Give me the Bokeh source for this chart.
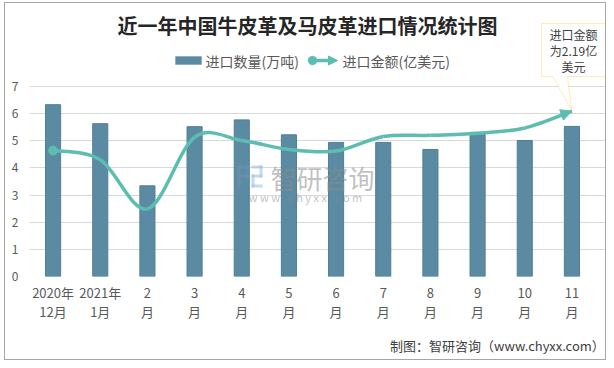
from bokeh.plotting import figure
from bokeh.models import (Range1d, FixedTicker, Label, BoxAnnotation, PolyAnnotation,
                          Arrow, NormalHead, LinearAxis)
from bokeh.embed import file_html
from bokeh.resources import INLINE

# ---------------- data ----------------
months = ["2020年\n12月", "2021年\n1月", "2\n月", "3\n月", "4\n月", "5\n月",
          "6\n月", "7\n月", "8\n月", "9\n月", "10\n月", "11\n月"]
qty = [6.33, 5.63, 3.34, 5.52, 5.77, 5.22, 4.94, 4.94, 4.68, 5.31, 5.01, 5.53]      # 进口数量(万吨)
amount = [4.64, 4.30, 2.49, 5.13, 5.01, 4.68, 4.62, 5.16, 5.20, 5.28, 5.47, 6.09]  # 进口金额(亿美元)
y_ticks = [0, 1, 2, 3, 4, 5, 6, 7]

title_text = "近一年中国牛皮革及马皮革进口情况统计图"
legend_bar = "进口数量(万吨)"
legend_line = "进口金额(亿美元)"
callout_lines = ["进口金额", "为2.19亿", "美元"]
source_text = "制图：智研咨询（www.chyxx.com）"

FONT = "Noto Sans CJK SC"
BAR = "#5B8BA3"
BAR_EDGE = "#4E7E95"
TEAL = "#5CBDB0"
GRID = "#D9D9D9"
TXT = "#595959"

# ---------------- layout (page pixels) ----------------
OX, OY = 5, 3                 # canvas origin on page (inside the css border)
CW, CH = 602, 358             # canvas size
PL, PR, PT, PB = 29, 595, 86, 276   # plot area of the categories / 0..7
FR_TOP, FR_RIGHT = OY, OX + CW      # frame extends to the canvas top / right
ymax = 7
y_end = ymax * (PB - FR_TOP) / (PB - PT)
ncat = len(months)
x_end = -0.5 + ncat * (FR_RIGHT - PL) / (PR - PL)

def data_x(X):   # page x -> data x
    return -0.5 + ncat * (X - PL) / (PR - PL)

x = list(range(ncat))

p = figure(width=CW, height=CH, output_backend="svg", toolbar_location=None,
           x_range=Range1d(-0.5, x_end), y_range=Range1d(0, y_end),
           min_border_left=PL - OX, min_border_right=0, min_border_top=0,
           min_border_bottom=OY + CH - PB,
           styles={"border": "1px solid #A6A6A6", "margin-left": "4px", "margin-top": "2px"})
p.outline_line_color = None
p.background_fill_color = "white"
p.border_fill_color = "white"

# axes
p.xaxis.ticker = FixedTicker(ticks=x)
p.xaxis.major_label_overrides = {i: m for i, m in enumerate(months)}
p.yaxis.ticker = FixedTicker(ticks=y_ticks)
for ax in (p.xaxis, p.yaxis):
    ax.axis_line_color = None
    ax.major_tick_line_color = None
    ax.minor_tick_line_color = None
    ax.major_tick_out = 0
    ax.major_tick_in = 0
    ax.minor_tick_out = 0
    ax.major_label_text_font = FONT
    ax.major_label_text_color = TXT
p.xaxis.major_label_text_font_size = "13px"
p.xaxis.major_label_text_line_height = 1.0
p.yaxis.major_label_text_font_size = "12px"
p.xaxis.major_label_standoff = 6
p.yaxis.major_label_standoff = 11
p.xgrid.grid_line_color = None
p.ygrid.grid_line_color = GRID
p.ygrid.grid_line_width = 1

# source line as a second, tick-less axis below the month axis
src_pos = round(data_x(497), 3)
src_axis = LinearAxis(ticker=FixedTicker(ticks=[src_pos]),
                      major_label_overrides={src_pos: source_text},
                      axis_line_color=None, major_tick_line_color=None, minor_tick_line_color=None,
                      major_tick_out=0, major_tick_in=0, minor_tick_out=0,
                      major_label_standoff=12, major_label_text_font=FONT,
                      major_label_text_font_size="13px", major_label_text_color="#404040")
p.add_layout(src_axis, "below")

# bars
p.vbar(x=x, top=qty, width=0.32, fill_color=BAR, line_color=BAR_EDGE, line_width=1)

# smoothed line (Catmull-Rom bezier segments through the data points)
n = len(amount)
x0s, y0s, x1s, y1s, c0x, c0y, c1x, c1y = [], [], [], [], [], [], [], []
for i in range(n - 1):
    im1 = max(i - 1, 0)
    ip2 = min(i + 2, n - 1)
    x0s.append(x[i]); y0s.append(amount[i])
    x1s.append(x[i + 1]); y1s.append(amount[i + 1])
    c0x.append(x[i] + (x[i + 1] - x[im1]) / 6); c0y.append(amount[i] + (amount[i + 1] - amount[im1]) / 6)
    c1x.append(x[i + 1] - (x[ip2] - x[i]) / 6); c1y.append(amount[i + 1] - (amount[ip2] - amount[i]) / 6)
p.bezier(x0=x0s, y0=y0s, x1=x1s, y1=y1s, cx0=c0x, cy0=c0y, cx1=c1x, cy1=c1y,
         line_color=TEAL, line_width=3.5)
p.scatter(x=x[:1], y=amount[:1], size=9, fill_color=TEAL, line_color=TEAL)
p.add_layout(Arrow(x_start=c1x[-1], y_start=c1y[-1], x_end=x[-1], y_end=amount[-1],
                   line_alpha=0, line_width=0,
                   end=NormalHead(size=11, fill_color=TEAL, line_color=TEAL)))

# ---------- decorations in page coordinates (converted to frame screen units) ----------
def sx(X):
    return X - PL
def sy(Y):
    return PB - Y

def label(text, X, Y, size, color=TXT, align="center", style="normal", baseline="middle", alpha=1.0):
    p.add_layout(Label(x=sx(X), y=sy(Y), x_units="screen", y_units="screen", text=text,
                       text_font=FONT, text_font_size=size, text_color=color,
                       text_align=align, text_baseline=baseline, text_font_style=style,
                       text_alpha=alpha))

def box(l, r, t, b, **kw):
    p.add_layout(BoxAnnotation(left=sx(l), right=sx(r), top=sy(t), bottom=sy(b),
                               left_units="screen", right_units="screen",
                               top_units="screen", bottom_units="screen", **kw))

# title
label(title_text, 307, 25, "20px", color="#262626", style="bold")

# legend
box(175, 201, 56, 64, fill_color=BAR, fill_alpha=1, line_color=BAR_EDGE, line_width=1)
label(legend_bar, 205, 60, "14px", align="left")
p.add_layout(Arrow(x_start=sx(312), y_start=sy(60), x_end=sx(337), y_end=sy(60),
                   start_units="screen", end_units="screen", line_color=TEAL, line_width=3.5,
                   end=NormalHead(size=9, fill_color=TEAL, line_color=TEAL)))
box(307.5, 316.5, 55.5, 64.5, border_radius=5, fill_color=TEAL, fill_alpha=1, line_color=TEAL)
label(legend_line, 342, 60, "14px", align="left")

# callout
cxs = [541, 605, 605, 567, 571, 552, 541]
cys = [23, 23, 76, 76, 109, 76, 76]
p.add_layout(PolyAnnotation(xs=[sx(v) for v in cxs], ys=[sy(v) for v in cys],
                            xs_units="screen", ys_units="screen",
                            fill_color="white", fill_alpha=1, line_color="#FFC000", line_width=1))
for k, t in enumerate(callout_lines):
    label(t, 573, 34 + 16 * k, "12px", color="#404040")

# watermark (logo + text)
LOGO_A = dict(fill_color="#6F93BA", fill_alpha=0.45, line_alpha=0)
LOGO_B = dict(fill_color="#9DC3E6", fill_alpha=0.6, line_alpha=0)
box(237, 240, 165, 187, **LOGO_A)
box(237, 249, 165, 168, **LOGO_A)
box(240, 249, 174, 177, **LOGO_A)
box(246, 249, 165, 177, **LOGO_A)
box(251, 262, 165, 168, **LOGO_B)
box(259, 262, 165, 177, **LOGO_B)
box(251, 262, 174, 177, **LOGO_B)
box(251, 254, 174, 187, **LOGO_B)
box(251, 262, 184, 187, **LOGO_B)
label("智研咨询", 322, 177, "26px", color="#8C8C8C", alpha=0.55)
label("w w w . c h y x x . c o m", 305, 196, "11px", color="#8C8C8C", alpha=0.55)

open("out.html", "w").write(file_html(p, INLINE))
